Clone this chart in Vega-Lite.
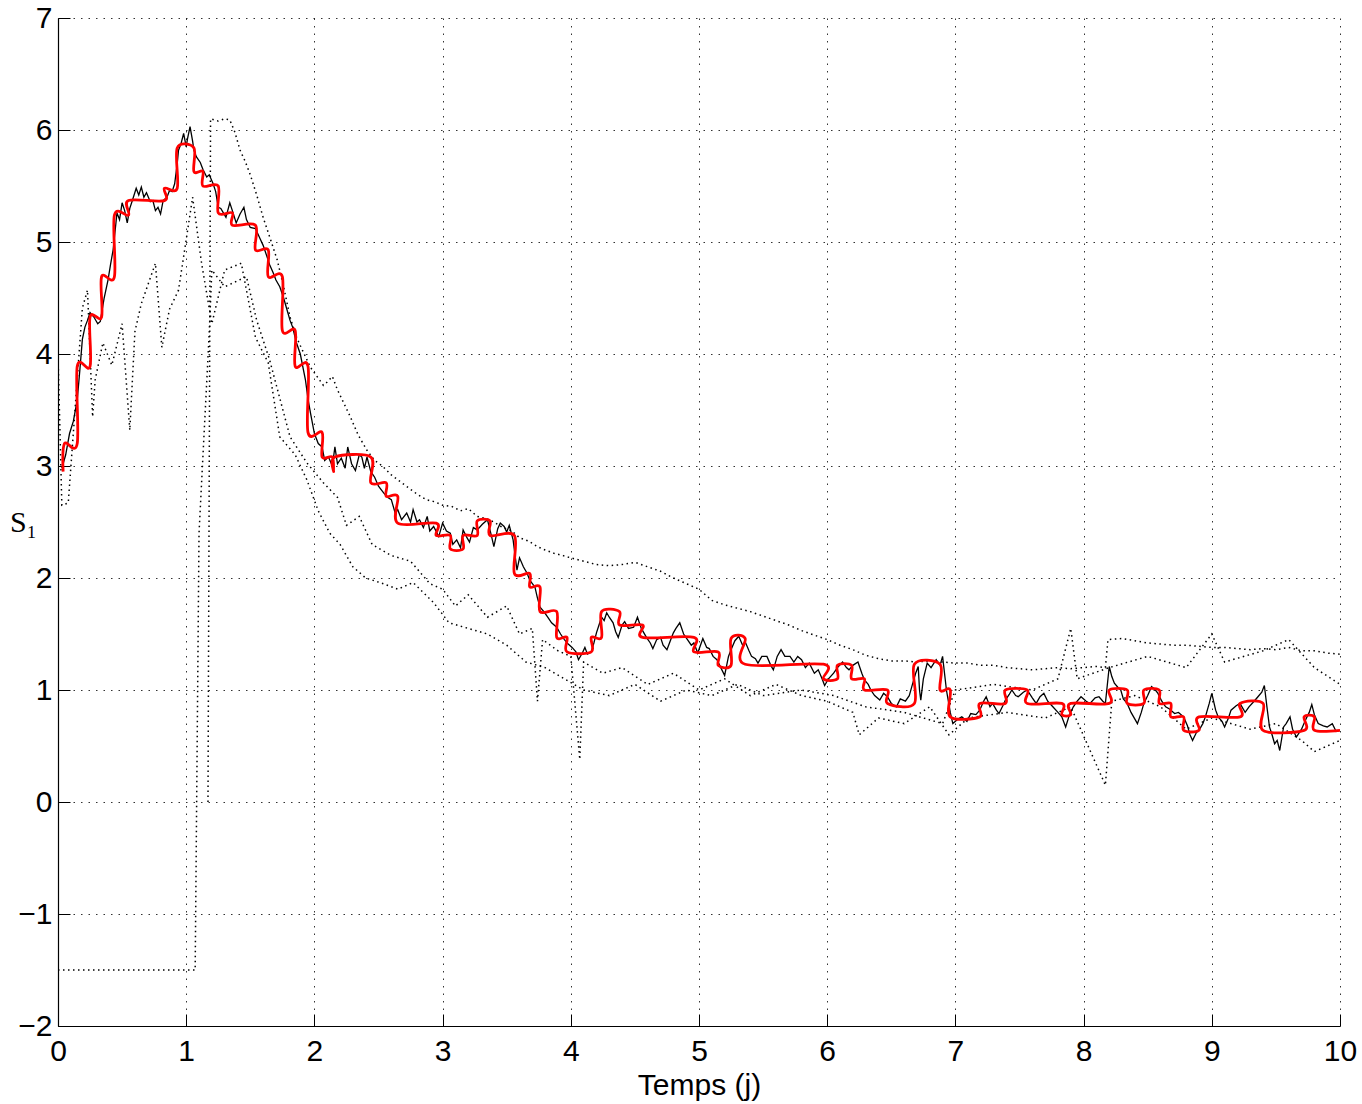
{
"$schema":"https://vega.github.io/schema/vega-lite/v6.json",
"width":1282,"height":1008,
"autosize":{"type":"none"},
"padding":{"left":58,"top":18,"right":22,"bottom":78},
"background":"#ffffff",
"config":{"view":{"stroke":null},
"axis":{"domainColor":"#000","tickColor":"#000","labelColor":"#000","titleColor":"#000","labelFont":"Liberation Sans","titleFont":"Liberation Sans","labelFontSize":30,"titleFontSize":30,"titleFontWeight":"normal","gridColor":"#000","gridDash":[1.5,6],"gridOpacity":0.8,"gridWidth":1,"tickSize":-12,"tickWidth":1,"domainWidth":1.2,"labelFlush":false,"labelOverlap":false}},
"datasets":{
"up":[{"x":1.17,"y":0.0},{"x":1.19,"y":6.1},{"x":1.25,"y":6.08},{"x":1.3,"y":6.1},{"x":1.34,"y":6.09},{"x":1.38,"y":5.98},{"x":1.42,"y":5.82},{"x":1.46,"y":5.72},{"x":1.5,"y":5.6},{"x":1.55,"y":5.42},{"x":1.6,"y":5.22},{"x":1.65,"y":5.05},{"x":1.71,"y":4.84},{"x":1.76,"y":4.6},{"x":1.81,"y":4.33},{"x":1.86,"y":4.15},{"x":1.9,"y":4.05},{"x":1.97,"y":3.88},{"x":2.02,"y":3.8},{"x":2.07,"y":3.72},{"x":2.1,"y":3.75},{"x":2.14,"y":3.8},{"x":2.18,"y":3.68},{"x":2.23,"y":3.56},{"x":2.28,"y":3.44},{"x":2.34,"y":3.28},{"x":2.41,"y":3.14},{"x":2.47,"y":3.05},{"x":2.53,"y":3.0},{"x":2.6,"y":2.92},{"x":2.67,"y":2.86},{"x":2.74,"y":2.8},{"x":2.8,"y":2.75},{"x":2.87,"y":2.7},{"x":2.94,"y":2.68},{"x":3.0,"y":2.65},{"x":3.07,"y":2.64},{"x":3.14,"y":2.6},{"x":3.2,"y":2.62},{"x":3.27,"y":2.55},{"x":3.34,"y":2.53},{"x":3.4,"y":2.5},{"x":3.47,"y":2.45},{"x":3.54,"y":2.42},{"x":3.6,"y":2.36},{"x":3.67,"y":2.33},{"x":3.74,"y":2.28},{"x":3.8,"y":2.25},{"x":3.87,"y":2.22},{"x":3.94,"y":2.2},{"x":4.0,"y":2.18},{"x":4.1,"y":2.15},{"x":4.2,"y":2.12},{"x":4.3,"y":2.11},{"x":4.4,"y":2.12},{"x":4.5,"y":2.14},{"x":4.6,"y":2.1},{"x":4.7,"y":2.06},{"x":4.8,"y":2.0},{"x":4.9,"y":1.95},{"x":5.0,"y":1.9},{"x":5.1,"y":1.8},{"x":5.2,"y":1.76},{"x":5.3,"y":1.73},{"x":5.4,"y":1.7},{"x":5.5,"y":1.66},{"x":5.6,"y":1.62},{"x":5.7,"y":1.58},{"x":5.8,"y":1.53},{"x":5.9,"y":1.49},{"x":6.0,"y":1.45},{"x":6.1,"y":1.4},{"x":6.2,"y":1.36},{"x":6.3,"y":1.31},{"x":6.4,"y":1.28},{"x":6.5,"y":1.26},{"x":6.6,"y":1.26},{"x":6.7,"y":1.25},{"x":6.8,"y":1.26},{"x":6.9,"y":1.25},{"x":7.0,"y":1.24},{"x":7.1,"y":1.24},{"x":7.2,"y":1.22},{"x":7.3,"y":1.22},{"x":7.4,"y":1.2},{"x":7.5,"y":1.19},{"x":7.6,"y":1.18},{"x":7.7,"y":1.19},{"x":7.8,"y":1.2},{"x":7.9,"y":1.19},{"x":8.0,"y":1.2},{"x":8.1,"y":1.21},{"x":8.17,"y":1.2},{"x":8.19,"y":1.45},{"x":8.3,"y":1.46},{"x":8.4,"y":1.44},{"x":8.5,"y":1.42},{"x":8.6,"y":1.41},{"x":8.7,"y":1.4},{"x":8.8,"y":1.4},{"x":8.9,"y":1.39},{"x":9.0,"y":1.38},{"x":9.1,"y":1.38},{"x":9.2,"y":1.37},{"x":9.3,"y":1.36},{"x":9.4,"y":1.37},{"x":9.5,"y":1.36},{"x":9.6,"y":1.38},{"x":9.7,"y":1.35},{"x":9.8,"y":1.35},{"x":9.9,"y":1.33},{"x":10.0,"y":1.32}],
"la":[{"x":0,"y":-1.5},{"x":1.07,"y":-1.5},{"x":1.1,"y":2.4},{"x":1.18,"y":4.2},{"x":1.2,"y":4.75},{"x":1.3,"y":4.6},{"x":1.47,"y":4.69},{"x":1.55,"y":4.3},{"x":1.65,"y":3.95},{"x":1.81,"y":3.26},{"x":1.94,"y":3.03},{"x":2.07,"y":2.85},{"x":2.18,"y":2.72},{"x":2.25,"y":2.47},{"x":2.35,"y":2.55},{"x":2.45,"y":2.3},{"x":2.6,"y":2.2},{"x":2.75,"y":2.15},{"x":2.9,"y":1.95},{"x":3.0,"y":1.9},{"x":3.1,"y":1.75},{"x":3.2,"y":1.85},{"x":3.35,"y":1.65},{"x":3.5,"y":1.75},{"x":3.6,"y":1.5},{"x":3.7,"y":1.55},{"x":3.74,"y":0.9},{"x":3.78,"y":1.45},{"x":3.9,"y":1.35},{"x":4.0,"y":1.3},{"x":4.07,"y":0.38},{"x":4.1,"y":1.25},{"x":4.25,"y":1.15},{"x":4.4,"y":1.2},{"x":4.6,"y":1.05},{"x":4.8,"y":1.15},{"x":5.0,"y":1.0},{"x":5.2,"y":1.1},{"x":5.4,"y":0.95},{"x":5.6,"y":1.05},{"x":5.8,"y":0.95},{"x":6.0,"y":0.9},{"x":6.2,"y":0.8},{"x":6.25,"y":0.6},{"x":6.4,"y":0.75},{"x":6.6,"y":0.7},{"x":6.8,"y":0.85},{"x":6.95,"y":0.6},{"x":7.1,"y":0.75},{"x":7.4,"y":0.8},{"x":7.7,"y":0.75},{"x":7.9,"y":0.85},{"x":8.17,"y":0.15},{"x":8.22,"y":0.9},{"x":8.4,"y":0.95},{"x":8.6,"y":0.85},{"x":8.8,"y":0.65},{"x":9.0,"y":0.75},{"x":9.3,"y":0.65},{"x":9.5,"y":0.7},{"x":9.7,"y":0.55},{"x":9.8,"y":0.45},{"x":10.0,"y":0.55}],
"lb":[{"x":0.0,"y":4.0},{"x":0.03,"y":2.65},{"x":0.08,"y":2.67},{"x":0.12,"y":3.3},{"x":0.19,"y":4.41},{"x":0.23,"y":4.57},{"x":0.27,"y":3.44},{"x":0.29,"y":3.77},{"x":0.35,"y":4.1},{"x":0.42,"y":3.9},{"x":0.5,"y":4.27},{"x":0.56,"y":3.32},{"x":0.6,"y":4.2},{"x":0.65,"y":4.45},{"x":0.76,"y":4.81},{"x":0.81,"y":4.06},{"x":0.87,"y":4.4},{"x":0.94,"y":4.57},{"x":1.0,"y":5.02},{"x":1.05,"y":5.4},{"x":1.12,"y":4.81},{"x":1.2,"y":4.27},{"x":1.3,"y":4.75},{"x":1.43,"y":4.81},{"x":1.54,"y":4.15},{"x":1.64,"y":3.92},{"x":1.73,"y":3.26},{"x":1.85,"y":3.1},{"x":1.94,"y":2.88},{"x":2.03,"y":2.6},{"x":2.12,"y":2.4},{"x":2.2,"y":2.3},{"x":2.3,"y":2.1},{"x":2.4,"y":2.0},{"x":2.51,"y":1.96},{"x":2.65,"y":1.9},{"x":2.77,"y":1.96},{"x":2.93,"y":1.78},{"x":3.05,"y":1.6},{"x":3.2,"y":1.55},{"x":3.35,"y":1.5},{"x":3.5,"y":1.4},{"x":3.65,"y":1.25},{"x":3.8,"y":1.2},{"x":3.95,"y":1.1},{"x":4.1,"y":1.0},{"x":4.3,"y":0.95},{"x":4.5,"y":1.05},{"x":4.7,"y":0.9},{"x":4.9,"y":1.0},{"x":5.1,"y":0.95},{"x":5.3,"y":1.05},{"x":5.5,"y":0.95},{"x":5.8,"y":1.0},{"x":6.05,"y":0.95},{"x":6.3,"y":0.85},{"x":6.6,"y":0.8},{"x":6.9,"y":0.7},{"x":7.0,"y":1.0},{"x":7.3,"y":1.05},{"x":7.6,"y":1.0},{"x":7.8,"y":1.1},{"x":7.9,"y":1.55},{"x":7.95,"y":1.1},{"x":8.2,"y":1.2},{"x":8.5,"y":1.3},{"x":8.8,"y":1.2},{"x":9.0,"y":1.5},{"x":9.1,"y":1.25},{"x":9.4,"y":1.35},{"x":9.6,"y":1.45},{"x":9.8,"y":1.2},{"x":10.0,"y":1.05}],
"blk":[{"x":0.03,"y":2.98},{"x":0.06,"y":3.1},{"x":0.09,"y":3.29},{"x":0.12,"y":3.4},{"x":0.15,"y":3.59},{"x":0.17,"y":3.85},{"x":0.19,"y":4.13},{"x":0.21,"y":4.24},{"x":0.23,"y":4.3},{"x":0.25,"y":4.37},{"x":0.28,"y":4.33},{"x":0.31,"y":4.27},{"x":0.33,"y":4.29},{"x":0.36,"y":4.5},{"x":0.39,"y":4.66},{"x":0.41,"y":4.8},{"x":0.43,"y":4.93},{"x":0.45,"y":5.15},{"x":0.46,"y":5.26},{"x":0.48,"y":5.2},{"x":0.5,"y":5.35},{"x":0.52,"y":5.28},{"x":0.54,"y":5.17},{"x":0.56,"y":5.3},{"x":0.58,"y":5.37},{"x":0.61,"y":5.48},{"x":0.63,"y":5.42},{"x":0.65,"y":5.49},{"x":0.67,"y":5.4},{"x":0.69,"y":5.44},{"x":0.72,"y":5.36},{"x":0.74,"y":5.37},{"x":0.76,"y":5.28},{"x":0.78,"y":5.31},{"x":0.8,"y":5.25},{"x":0.82,"y":5.37},{"x":0.85,"y":5.4},{"x":0.87,"y":5.46},{"x":0.89,"y":5.45},{"x":0.91,"y":5.52},{"x":0.93,"y":5.7},{"x":0.94,"y":5.82},{"x":0.96,"y":5.88},{"x":0.98,"y":5.97},{"x":1.0,"y":5.85},{"x":1.01,"y":5.92},{"x":1.03,"y":6.03},{"x":1.05,"y":5.9},{"x":1.06,"y":5.82},{"x":1.08,"y":5.76},{"x":1.11,"y":5.71},{"x":1.13,"y":5.65},{"x":1.16,"y":5.58},{"x":1.18,"y":5.6},{"x":1.21,"y":5.52},{"x":1.23,"y":5.45},{"x":1.25,"y":5.31},{"x":1.27,"y":5.3},{"x":1.29,"y":5.26},{"x":1.31,"y":5.22},{"x":1.34,"y":5.35},{"x":1.36,"y":5.28},{"x":1.39,"y":5.17},{"x":1.42,"y":5.25},{"x":1.45,"y":5.31},{"x":1.47,"y":5.2},{"x":1.5,"y":5.13},{"x":1.54,"y":5.12},{"x":1.58,"y":5.02},{"x":1.6,"y":4.97},{"x":1.63,"y":4.87},{"x":1.65,"y":4.8},{"x":1.68,"y":4.72},{"x":1.7,"y":4.66},{"x":1.73,"y":4.6},{"x":1.76,"y":4.5},{"x":1.78,"y":4.42},{"x":1.81,"y":4.3},{"x":1.83,"y":4.24},{"x":1.86,"y":4.1},{"x":1.89,"y":4.0},{"x":1.93,"y":3.77},{"x":1.95,"y":3.6},{"x":1.97,"y":3.47},{"x":2.0,"y":3.29},{"x":2.03,"y":3.2},{"x":2.06,"y":3.17},{"x":2.08,"y":3.05},{"x":2.11,"y":3.08},{"x":2.14,"y":3.0},{"x":2.16,"y":3.17},{"x":2.18,"y":3.02},{"x":2.21,"y":3.07},{"x":2.24,"y":2.98},{"x":2.26,"y":3.17},{"x":2.29,"y":3.02},{"x":2.32,"y":2.96},{"x":2.35,"y":3.1},{"x":2.37,"y":3.08},{"x":2.39,"y":2.98},{"x":2.41,"y":3.08},{"x":2.44,"y":2.95},{"x":2.47,"y":2.9},{"x":2.5,"y":2.82},{"x":2.54,"y":2.76},{"x":2.57,"y":2.72},{"x":2.6,"y":2.7},{"x":2.63,"y":2.58},{"x":2.65,"y":2.61},{"x":2.68,"y":2.52},{"x":2.72,"y":2.58},{"x":2.75,"y":2.5},{"x":2.77,"y":2.61},{"x":2.8,"y":2.5},{"x":2.82,"y":2.52},{"x":2.85,"y":2.45},{"x":2.88,"y":2.55},{"x":2.9,"y":2.42},{"x":2.93,"y":2.46},{"x":2.97,"y":2.37},{"x":3.0,"y":2.49},{"x":3.03,"y":2.42},{"x":3.06,"y":2.4},{"x":3.08,"y":2.3},{"x":3.11,"y":2.34},{"x":3.14,"y":2.27},{"x":3.16,"y":2.43},{"x":3.19,"y":2.36},{"x":3.21,"y":2.32},{"x":3.24,"y":2.45},{"x":3.27,"y":2.43},{"x":3.31,"y":2.48},{"x":3.35,"y":2.52},{"x":3.38,"y":2.38},{"x":3.4,"y":2.28},{"x":3.43,"y":2.44},{"x":3.45,"y":2.49},{"x":3.48,"y":2.46},{"x":3.5,"y":2.41},{"x":3.52,"y":2.47},{"x":3.55,"y":2.34},{"x":3.58,"y":2.07},{"x":3.6,"y":2.18},{"x":3.63,"y":2.1},{"x":3.66,"y":2.04},{"x":3.68,"y":1.98},{"x":3.7,"y":1.95},{"x":3.72,"y":1.92},{"x":3.74,"y":1.82},{"x":3.76,"y":1.74},{"x":3.79,"y":1.7},{"x":3.82,"y":1.65},{"x":3.85,"y":1.6},{"x":3.89,"y":1.56},{"x":3.92,"y":1.5},{"x":3.95,"y":1.45},{"x":3.98,"y":1.41},{"x":4.01,"y":1.38},{"x":4.04,"y":1.34},{"x":4.06,"y":1.27},{"x":4.09,"y":1.33},{"x":4.11,"y":1.38},{"x":4.13,"y":1.32},{"x":4.16,"y":1.34},{"x":4.18,"y":1.42},{"x":4.2,"y":1.51},{"x":4.22,"y":1.58},{"x":4.24,"y":1.65},{"x":4.26,"y":1.62},{"x":4.28,"y":1.69},{"x":4.3,"y":1.65},{"x":4.33,"y":1.6},{"x":4.35,"y":1.52},{"x":4.37,"y":1.47},{"x":4.4,"y":1.58},{"x":4.42,"y":1.61},{"x":4.45,"y":1.55},{"x":4.49,"y":1.56},{"x":4.52,"y":1.65},{"x":4.55,"y":1.55},{"x":4.59,"y":1.47},{"x":4.62,"y":1.42},{"x":4.64,"y":1.37},{"x":4.67,"y":1.45},{"x":4.7,"y":1.47},{"x":4.72,"y":1.4},{"x":4.75,"y":1.36},{"x":4.78,"y":1.45},{"x":4.8,"y":1.51},{"x":4.82,"y":1.55},{"x":4.85,"y":1.6},{"x":4.88,"y":1.5},{"x":4.91,"y":1.45},{"x":4.94,"y":1.4},{"x":4.96,"y":1.42},{"x":4.99,"y":1.33},{"x":5.03,"y":1.46},{"x":5.06,"y":1.38},{"x":5.08,"y":1.37},{"x":5.11,"y":1.3},{"x":5.14,"y":1.27},{"x":5.17,"y":1.2},{"x":5.2,"y":1.13},{"x":5.23,"y":1.3},{"x":5.25,"y":1.36},{"x":5.28,"y":1.44},{"x":5.31,"y":1.48},{"x":5.34,"y":1.4},{"x":5.36,"y":1.43},{"x":5.39,"y":1.35},{"x":5.41,"y":1.3},{"x":5.44,"y":1.28},{"x":5.46,"y":1.24},{"x":5.49,"y":1.3},{"x":5.53,"y":1.3},{"x":5.56,"y":1.22},{"x":5.58,"y":1.18},{"x":5.61,"y":1.3},{"x":5.64,"y":1.36},{"x":5.67,"y":1.3},{"x":5.71,"y":1.3},{"x":5.74,"y":1.25},{"x":5.77,"y":1.3},{"x":5.8,"y":1.27},{"x":5.83,"y":1.2},{"x":5.86,"y":1.24},{"x":5.9,"y":1.15},{"x":5.93,"y":1.18},{"x":5.96,"y":1.1},{"x":5.98,"y":1.04},{"x":6.01,"y":1.1},{"x":6.05,"y":1.15},{"x":6.08,"y":1.2},{"x":6.12,"y":1.25},{"x":6.15,"y":1.2},{"x":6.17,"y":1.18},{"x":6.2,"y":1.22},{"x":6.24,"y":1.25},{"x":6.27,"y":1.15},{"x":6.29,"y":1.09},{"x":6.32,"y":1.05},{"x":6.34,"y":1.0},{"x":6.37,"y":0.95},{"x":6.41,"y":0.91},{"x":6.44,"y":0.97},{"x":6.47,"y":0.94},{"x":6.5,"y":0.88},{"x":6.54,"y":0.85},{"x":6.57,"y":0.92},{"x":6.61,"y":0.9},{"x":6.64,"y":0.95},{"x":6.66,"y":1.03},{"x":6.69,"y":1.15},{"x":6.71,"y":1.21},{"x":6.72,"y":1.0},{"x":6.73,"y":0.91},{"x":6.75,"y":1.1},{"x":6.78,"y":1.24},{"x":6.81,"y":1.2},{"x":6.85,"y":1.27},{"x":6.88,"y":1.22},{"x":6.9,"y":1.3},{"x":6.92,"y":1.1},{"x":6.93,"y":1.0},{"x":6.96,"y":0.8},{"x":6.98,"y":0.7},{"x":7.02,"y":0.74},{"x":7.05,"y":0.76},{"x":7.09,"y":0.72},{"x":7.12,"y":0.79},{"x":7.16,"y":0.78},{"x":7.19,"y":0.82},{"x":7.22,"y":0.9},{"x":7.24,"y":0.94},{"x":7.27,"y":0.85},{"x":7.29,"y":0.88},{"x":7.32,"y":0.82},{"x":7.34,"y":0.79},{"x":7.37,"y":0.86},{"x":7.39,"y":0.91},{"x":7.42,"y":0.96},{"x":7.44,"y":1.0},{"x":7.47,"y":0.95},{"x":7.49,"y":0.94},{"x":7.53,"y":0.98},{"x":7.56,"y":1.0},{"x":7.6,"y":0.93},{"x":7.63,"y":0.88},{"x":7.66,"y":0.94},{"x":7.69,"y":0.97},{"x":7.72,"y":0.9},{"x":7.76,"y":0.85},{"x":7.8,"y":0.8},{"x":7.83,"y":0.76},{"x":7.86,"y":0.67},{"x":7.89,"y":0.78},{"x":7.92,"y":0.85},{"x":7.95,"y":0.9},{"x":7.98,"y":0.94},{"x":8.02,"y":0.9},{"x":8.05,"y":0.88},{"x":8.09,"y":0.93},{"x":8.12,"y":0.94},{"x":8.15,"y":0.9},{"x":8.17,"y":0.88},{"x":8.19,"y":1.1},{"x":8.2,"y":1.21},{"x":8.22,"y":1.12},{"x":8.24,"y":1.06},{"x":8.27,"y":1.02},{"x":8.29,"y":1.0},{"x":8.31,"y":0.92},{"x":8.34,"y":0.88},{"x":8.37,"y":0.8},{"x":8.39,"y":0.76},{"x":8.42,"y":0.7},{"x":8.45,"y":0.8},{"x":8.47,"y":0.88},{"x":8.5,"y":0.95},{"x":8.53,"y":1.03},{"x":8.56,"y":1.0},{"x":8.58,"y":0.97},{"x":8.61,"y":0.9},{"x":8.64,"y":0.85},{"x":8.67,"y":0.83},{"x":8.71,"y":0.79},{"x":8.74,"y":0.8},{"x":8.78,"y":0.76},{"x":8.81,"y":0.68},{"x":8.83,"y":0.6},{"x":8.85,"y":0.55},{"x":8.88,"y":0.62},{"x":8.9,"y":0.64},{"x":8.93,"y":0.7},{"x":8.95,"y":0.76},{"x":8.98,"y":0.88},{"x":9.0,"y":0.97},{"x":9.03,"y":0.82},{"x":9.05,"y":0.76},{"x":9.08,"y":0.72},{"x":9.1,"y":0.67},{"x":9.13,"y":0.75},{"x":9.15,"y":0.82},{"x":9.19,"y":0.86},{"x":9.22,"y":0.88},{"x":9.26,"y":0.8},{"x":9.29,"y":0.85},{"x":9.33,"y":0.9},{"x":9.36,"y":0.94},{"x":9.39,"y":0.98},{"x":9.41,"y":1.04},{"x":9.43,"y":0.85},{"x":9.45,"y":0.67},{"x":9.47,"y":0.6},{"x":9.49,"y":0.52},{"x":9.51,"y":0.55},{"x":9.53,"y":0.46},{"x":9.56,"y":0.67},{"x":9.58,"y":0.7},{"x":9.61,"y":0.76},{"x":9.63,"y":0.65},{"x":9.66,"y":0.58},{"x":9.7,"y":0.65},{"x":9.73,"y":0.73},{"x":9.76,"y":0.8},{"x":9.78,"y":0.87},{"x":9.8,"y":0.78},{"x":9.83,"y":0.7},{"x":9.87,"y":0.68},{"x":9.9,"y":0.67},{"x":9.94,"y":0.7},{"x":9.97,"y":0.63},{"x":10.0,"y":0.64}],
"red":[{"i":1,"x":0.04,"y":2.95},{"i":2,"x":0.05,"y":3.2},{"i":3,"x":0.15,"y":3.2},{"i":4,"x":0.15,"y":3.89},{"i":5,"x":0.25,"y":3.89},{"i":6,"x":0.25,"y":4.33},{"i":7,"x":0.34,"y":4.33},{"i":8,"x":0.34,"y":4.69},{"i":9,"x":0.44,"y":4.69},{"i":10,"x":0.44,"y":5.24},{"i":11,"x":0.55,"y":5.24},{"i":12,"x":0.55,"y":5.37},{"i":13,"x":0.83,"y":5.37},{"i":14,"x":0.83,"y":5.48},{"i":15,"x":0.93,"y":5.48},{"i":16,"x":0.93,"y":5.84},{"i":17,"x":1.06,"y":5.84},{"i":18,"x":1.06,"y":5.63},{"i":19,"x":1.13,"y":5.63},{"i":20,"x":1.13,"y":5.5},{"i":21,"x":1.25,"y":5.5},{"i":22,"x":1.25,"y":5.26},{"i":23,"x":1.36,"y":5.26},{"i":24,"x":1.36,"y":5.15},{"i":25,"x":1.54,"y":5.15},{"i":26,"x":1.54,"y":4.93},{"i":27,"x":1.64,"y":4.93},{"i":28,"x":1.64,"y":4.69},{"i":29,"x":1.75,"y":4.69},{"i":30,"x":1.75,"y":4.21},{"i":31,"x":1.85,"y":4.21},{"i":32,"x":1.85,"y":3.89},{"i":33,"x":1.95,"y":3.89},{"i":34,"x":1.95,"y":3.3},{"i":35,"x":2.06,"y":3.3},{"i":36,"x":2.06,"y":3.08},{"i":37,"x":2.14,"y":3.08},{"i":38,"x":2.15,"y":2.95},{"i":39,"x":2.16,"y":3.08},{"i":40,"x":2.44,"y":3.08},{"i":41,"x":2.44,"y":2.85},{"i":42,"x":2.56,"y":2.85},{"i":43,"x":2.56,"y":2.73},{"i":44,"x":2.65,"y":2.73},{"i":45,"x":2.65,"y":2.49},{"i":46,"x":2.95,"y":2.49},{"i":47,"x":2.95,"y":2.38},{"i":48,"x":3.06,"y":2.38},{"i":49,"x":3.06,"y":2.26},{"i":50,"x":3.16,"y":2.26},{"i":51,"x":3.16,"y":2.38},{"i":52,"x":3.27,"y":2.38},{"i":53,"x":3.27,"y":2.51},{"i":54,"x":3.37,"y":2.51},{"i":55,"x":3.37,"y":2.38},{"i":56,"x":3.56,"y":2.38},{"i":57,"x":3.56,"y":2.04},{"i":58,"x":3.68,"y":2.04},{"i":59,"x":3.68,"y":1.92},{"i":60,"x":3.76,"y":1.92},{"i":61,"x":3.76,"y":1.7},{"i":62,"x":3.89,"y":1.7},{"i":63,"x":3.89,"y":1.47},{"i":64,"x":3.97,"y":1.47},{"i":65,"x":3.97,"y":1.34},{"i":66,"x":4.16,"y":1.34},{"i":67,"x":4.16,"y":1.47},{"i":68,"x":4.24,"y":1.47},{"i":69,"x":4.24,"y":1.7},{"i":70,"x":4.38,"y":1.7},{"i":71,"x":4.38,"y":1.58},{"i":72,"x":4.56,"y":1.58},{"i":73,"x":4.56,"y":1.47},{"i":74,"x":4.96,"y":1.47},{"i":75,"x":4.96,"y":1.34},{"i":76,"x":5.15,"y":1.34},{"i":77,"x":5.15,"y":1.22},{"i":78,"x":5.25,"y":1.22},{"i":79,"x":5.25,"y":1.46},{"i":80,"x":5.36,"y":1.46},{"i":81,"x":5.36,"y":1.23},{"i":82,"x":5.97,"y":1.23},{"i":83,"x":5.97,"y":1.1},{"i":84,"x":6.08,"y":1.1},{"i":85,"x":6.08,"y":1.22},{"i":86,"x":6.19,"y":1.22},{"i":87,"x":6.19,"y":1.1},{"i":88,"x":6.29,"y":1.1},{"i":89,"x":6.29,"y":1.0},{"i":90,"x":6.47,"y":1.0},{"i":91,"x":6.47,"y":0.88},{"i":92,"x":6.68,"y":0.88},{"i":93,"x":6.68,"y":1.23},{"i":94,"x":6.88,"y":1.23},{"i":95,"x":6.88,"y":1.0},{"i":96,"x":6.96,"y":1.0},{"i":97,"x":6.96,"y":0.76},{"i":98,"x":7.19,"y":0.76},{"i":99,"x":7.19,"y":0.88},{"i":100,"x":7.39,"y":0.88},{"i":101,"x":7.39,"y":1.0},{"i":102,"x":7.56,"y":1.0},{"i":103,"x":7.56,"y":0.88},{"i":104,"x":7.83,"y":0.88},{"i":105,"x":7.83,"y":0.78},{"i":106,"x":7.9,"y":0.78},{"i":107,"x":7.9,"y":0.88},{"i":108,"x":8.2,"y":0.88},{"i":109,"x":8.2,"y":1.0},{"i":110,"x":8.34,"y":1.0},{"i":111,"x":8.34,"y":0.88},{"i":112,"x":8.47,"y":0.88},{"i":113,"x":8.47,"y":1.0},{"i":114,"x":8.59,"y":1.0},{"i":115,"x":8.59,"y":0.88},{"i":116,"x":8.68,"y":0.88},{"i":117,"x":8.68,"y":0.76},{"i":118,"x":8.78,"y":0.76},{"i":119,"x":8.78,"y":0.64},{"i":120,"x":8.9,"y":0.64},{"i":121,"x":8.9,"y":0.76},{"i":122,"x":9.22,"y":0.76},{"i":123,"x":9.22,"y":0.88},{"i":124,"x":9.4,"y":0.88},{"i":125,"x":9.4,"y":0.64},{"i":126,"x":9.72,"y":0.64},{"i":127,"x":9.72,"y":0.76},{"i":128,"x":9.8,"y":0.76},{"i":129,"x":9.8,"y":0.64},{"i":130,"x":10.0,"y":0.64}]
},
"encoding":{
 "x":{"field":"x","type":"quantitative","scale":{"domain":[0,10],"nice":false,"zero":false},"axis":{"orient":"bottom","values":[0,1,2,3,4,5,6,7,8,9,10],"format":"d","title":"Temps (j)","grid":true,"labelPadding":22,"titlePadding":4}},
 "y":{"field":"y","type":"quantitative","scale":{"domain":[-2,7],"nice":false,"zero":false},"axis":{"orient":"left","values":[-2,-1,0,1,2,3,4,5,6,7],"format":"d","title":"S₁","grid":true,"labelPadding":18,"titleAngle":0,"titleX":-35,"titleY":504,"titleAlign":"center","titleBaseline":"middle","titleFont":"Liberation Serif","titleFontSize":30}}
},
"layer":[
{"data":{"name":"up"},"mark":{"type":"line","color":"#000","strokeWidth":1.5,"strokeDash":[1.5,3.5],"clip":true}},
{"data":{"name":"la"},"mark":{"type":"line","color":"#000","strokeWidth":1.5,"strokeDash":[1.5,3.5],"clip":true}},
{"data":{"name":"lb"},"mark":{"type":"line","color":"#000","strokeWidth":1.5,"strokeDash":[1.5,3.5],"clip":true}},
{"data":{"name":"blk"},"mark":{"type":"line","color":"#000","strokeWidth":1.3,"clip":true}},
{"data":{"name":"red"},"mark":{"type":"line","color":"#ff0000","strokeWidth":2.8,"interpolate":"cardinal","tension":0,"clip":true},
 "encoding":{"order":{"field":"i","type":"quantitative"}}}
]
}
